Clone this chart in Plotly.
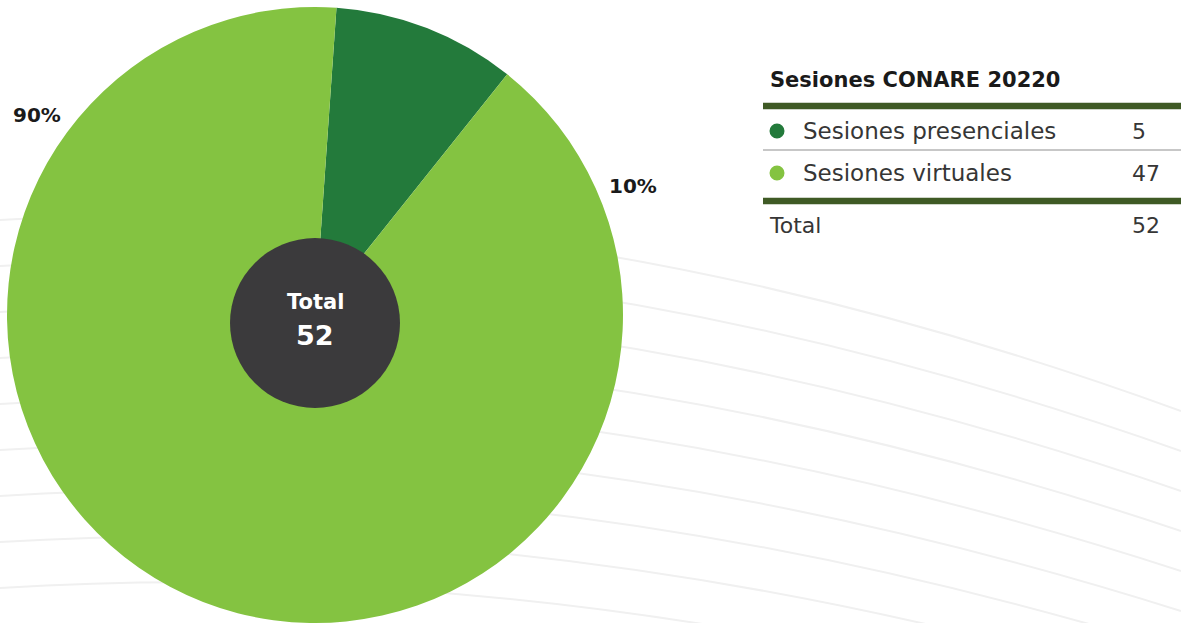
import plotly.graph_objects as go

# ---- data ----
categories = ["Sesiones presenciales", "Sesiones virtuales"]
values = [5, 47]
colors = ["#237a3b", "#84c341"]
table_title = "Sesiones CONARE 20220"
total_label = "Total"

W, H = 1181, 623
total = sum(values)
pcts = [round(v / total * 100) for v in values]


def px(x):
    return x / W


def py(y):
    return 1 - y / H


FONT = "DejaVu Sans"
fig = go.Figure()

fig.add_trace(go.Pie(
    labels=categories,
    values=values,
    marker=dict(colors=colors, line=dict(width=0)),
    sort=False,
    direction="clockwise",
    rotation=4,
    textinfo="none",
    hoverinfo="label+value+percent",
    domain=dict(x=[px(7), px(623)], y=[py(623), py(7)]),
    showlegend=False,
))

shapes = []
# decorative background curves
for i in range(0, 9):
    y0 = 220 + 46 * i
    yc = y0 - 35
    y2 = 411 + 40 * i
    path = f"M {px(0)},{py(y0)} Q {px(560)},{py(yc)} {px(1181)},{py(y2)}"
    shapes.append(dict(type="path", path=path, xref="paper", yref="paper",
                       line=dict(color="#f0f0f0", width=2), layer="below"))

# center circle
cx, cy, r = 315, 323, 85
shapes.append(dict(type="circle", xref="paper", yref="paper",
                   x0=px(cx - r), x1=px(cx + r), y0=py(cy + r), y1=py(cy - r),
                   fillcolor="#3b3a3c", line=dict(width=0), layer="above"))

# table lines
shapes.append(dict(type="line", xref="paper", yref="paper", x0=px(763), x1=px(1181),
                   y0=py(106), y1=py(106), line=dict(color="#3f5a25", width=6.5)))
shapes.append(dict(type="line", xref="paper", yref="paper", x0=px(763), x1=px(1181),
                   y0=py(150), y1=py(150), line=dict(color="#b5b5b5", width=1.5)))
shapes.append(dict(type="line", xref="paper", yref="paper", x0=px(763), x1=px(1181),
                   y0=py(201), y1=py(201), line=dict(color="#3f5a25", width=6.5)))

annotations = []


def ann(x, y, text, size, color="#222222", xanchor="left", bold=False):
    t = f"<b>{text}</b>" if bold else text
    annotations.append(dict(x=px(x), y=py(y), xref="paper", yref="paper", text=t,
                            showarrow=False, xanchor=xanchor, yanchor="middle",
                            font=dict(family=FONT, size=size, color=color)))


# percent labels
ann(37, 115, f"{pcts[1]}%", 20, "#1a1a1a", "center", True)
ann(633, 186, f"{pcts[0]}%", 20, "#1a1a1a", "center", True)

# center text
ann(315, 302, total_label, 21, "white", "center", True)
ann(315, 335, str(total), 27, "white", "center", True)

# table
ann(768, 80, table_title, 21, "#1a1a1a", "left", True)
row_y = [131, 173]
for cat, v, c, yy in zip(categories, values, colors, row_y):
    shapes.append(dict(type="circle", xref="paper", yref="paper",
                       x0=px(777 - 7.5), x1=px(777 + 7.5), y0=py(yy + 7.5), y1=py(yy - 7.5),
                       fillcolor=c, line=dict(width=0)))
    ann(801, yy, cat, 23, "#363636")
    ann(1130, yy, str(v), 22, "#363636")
ann(767, 225, total_label, 22, "#363636")
ann(1130, 225, str(total), 22, "#363636")

fig.update_layout(
    width=W, height=H,
    margin=dict(l=0, r=0, t=0, b=0),
    paper_bgcolor="white",
    plot_bgcolor="white",
    shapes=shapes,
    annotations=annotations,
    showlegend=False,
)

fig.write_html("out.html", config={"displayModeBar": False},
               post_script="document.body.style.margin='0';document.body.style.padding='0';")
